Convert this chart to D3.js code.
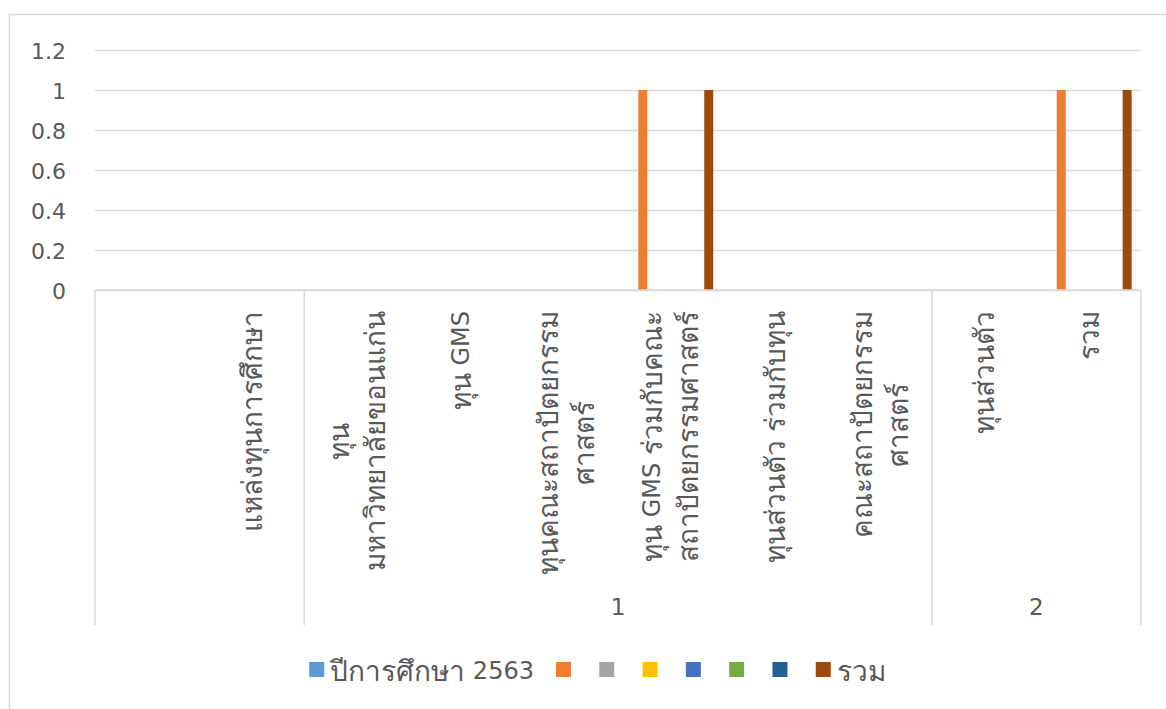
<!DOCTYPE html>
<html>
<head>
<meta charset="utf-8">
<script src="https://cdn.jsdelivr.net/npm/d3@7"></script>
<style>
  html, body { margin: 0; padding: 0; background: #fff; }
  svg { display: block; }
  text { font-family: "DejaVu Sans", "Noto Sans", sans-serif; fill: #595959; }
</style>
</head>
<body>
<svg id="chart" width="1166" height="709"></svg>
<script>
// ---- data ----
const categories = [
  "",
  "แหล่งทุนการศึกษา",
  "ทุน\nมหาวิทยาลัยขอนแก่น",
  "ทุน GMS",
  "ทุนคณะสถาปัตยกรรม\nศาสตร์",
  "ทุน GMS ร่วมกับคณะ\nสถาปัตยกรรมศาสตร์",
  "ทุนส่วนตัว ร่วมกับทุน",
  "คณะสถาปัตยกรรม\nศาสตร์",
  "ทุนส่วนตัว",
  "รวม"
];
const groupLabels = ["", "1", "2"];
const groupStarts = [0, 2, 8];
const groupEnds = [1, 7, 9];

const seriesNames = ["ปีการศึกษา 2563", "", "", "", "", "", "", "รวม"];
const seriesColors = ["#5B9BD5", "#ED7D31", "#A5A5A5", "#FFC000", "#4472C4", "#70AD47", "#255E91", "#9E480E"];
const s1 = [null, null, null, null, null, null, null, null, null, null];
const s2 = [null, null, null, null, null, 1, null, null, null, 1];
const s3 = [null, null, null, null, null, null, null, null, null, null];
const s4 = [null, null, null, null, null, null, null, null, null, null];
const s5 = [null, null, null, null, null, null, null, null, null, null];
const s6 = [null, null, null, null, null, null, null, null, null, null];
const s7 = [null, null, null, null, null, null, null, null, null, null];
const s8 = [null, null, null, null, null, 1, null, null, null, 1];
const seriesValues = [s1, s2, s3, s4, s5, s6, s7, s8];
const yTicks = [0, 0.2, 0.4, 0.6, 0.8, 1, 1.2];

// ---- layout ----
const svg = d3.select("#chart");
const L = 95, R = 1141, T = 50, B = 290, AXB = 625;
const grid = "#D9D9D9";
const TICK = 22, LATIN = 24, THAI = 28;

// write text split into Thai / non-Thai runs with their own sizes
function mixed(sel, str) {
  const runs = str.match(/[\u0E00-\u0E7F]+|[^\u0E00-\u0E7F]+/g) || [];
  runs.forEach(r => {
    sel.append("tspan").text(r)
      .attr("font-size", /[\u0E00-\u0E7F]/.test(r) ? THAI : LATIN);
  });
  return sel;
}

// chart border
svg.append("rect").attr("x", 9.5).attr("y", 14.5).attr("width", 1300).attr("height", 900)
  .attr("fill", "none").attr("stroke", grid).attr("stroke-width", 1.5);

const x0 = d3.scaleBand().domain(d3.range(categories.length)).range([L, R]).padding(0);
const step = x0.bandwidth() * 0.105;
const x1 = d3.scaleBand().domain(d3.range(seriesNames.length))
  .range([-step * 4, step * 4]).paddingInner(0.18).paddingOuter(0.09);
const y = d3.scaleLinear().domain([0, 1.2]).range([B, T]);

// gridlines
const yAxis = d3.axisLeft(y).tickValues(yTicks).tickSize(-(R - L)).tickPadding(29)
  .tickFormat(d => d3.format("~g")(d));
const gy = svg.append("g").attr("transform", `translate(${L},0)`).call(yAxis);
gy.select(".domain").remove();
gy.selectAll(".tick line").attr("stroke", grid).attr("stroke-width", 1.5);
gy.selectAll(".tick text").attr("font-size", TICK).attr("fill", "#595959")
  .attr("font-family", '"DejaVu Sans", "Noto Sans", sans-serif').attr("dy", "0.38em");

// bars
seriesValues.forEach((vals, si) => {
  svg.append("g").selectAll("rect")
    .data(vals.map((v, i) => ({ v, i })).filter(d => d.v != null))
    .join("rect")
    .attr("x", d => x0(d.i) + x0.bandwidth() / 2 + x1(si))
    .attr("width", x1.bandwidth())
    .attr("y", d => y(d.v))
    .attr("height", d => y(0) - y(d.v))
    .attr("fill", seriesColors[si]);
});

// category axis lines
svg.append("line").attr("x1", L).attr("x2", R).attr("y1", B).attr("y2", B)
  .attr("stroke", grid).attr("stroke-width", 1.5);
const seps = [L].concat(groupEnds.map(e => x0(e) + x0.bandwidth()));
svg.append("g").selectAll("line").data(seps).join("line")
  .attr("x1", d => d).attr("x2", d => d).attr("y1", B).attr("y2", AXB)
  .attr("stroke", grid).attr("stroke-width", 1.5);

// category labels (rotated, top-aligned, lines centered)
const lineGap = 36;
const labTop = 311;
categories.forEach((c, i) => {
  if (!c) return;
  const lines = c.split("\n");
  const g = svg.append("g");
  const cx = x0(i) + x0.bandwidth() / 2;
  const texts = lines.map(ln => mixed(g.append("text")
    .attr("text-anchor", "middle").attr("dominant-baseline", "central"), ln));
  const W = d3.max(texts, t => t.node().getComputedTextLength());
  texts.forEach((t, k) => {
    const off = (k - (lines.length - 1) / 2) * lineGap;
    t.attr("transform", `translate(${cx + off},${labTop + W / 2}) rotate(-90)`);
  });
});

// group labels
groupLabels.forEach((gl, gi) => {
  if (!gl) return;
  const cx = (x0(groupStarts[gi]) + x0(groupEnds[gi]) + x0.bandwidth()) / 2;
  svg.append("text").text(gl).attr("x", cx).attr("y", 607)
    .attr("font-size", 23).attr("text-anchor", "middle").attr("dominant-baseline", "central");
});

// legend
const lg = svg.append("g");
let cur = 0;
const sw = 15;
seriesNames.forEach((n, i) => {
  lg.append("rect").attr("x", cur).attr("y", 662).attr("width", sw).attr("height", sw)
    .attr("fill", seriesColors[i]);
  cur += sw;
  if (n) {
    const t = mixed(lg.append("text").attr("x", cur + 6).attr("y", 671)
      .attr("dominant-baseline", "central"), n);
    cur += 6 + t.node().getComputedTextLength() + 22;
  } else {
    cur += 28.3;
  }
});
const legW = cur - 22;
lg.attr("transform", `translate(${597.5 - legW / 2},0)`);
</script>
</body>
</html>
